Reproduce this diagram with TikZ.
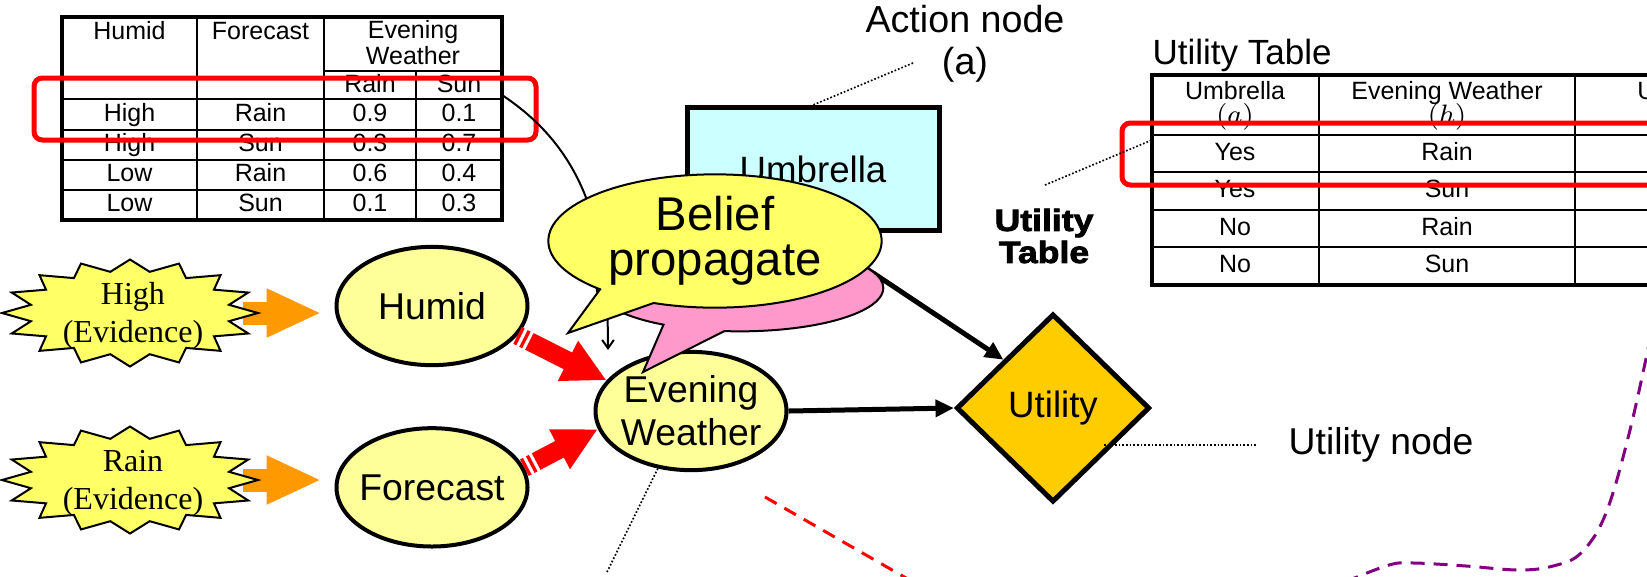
\documentclass[tikz,border=0pt]{standalone}
\usepackage{fontspec}
\setmainfont{Liberation Sans}
\newfontfamily\evidencefont{Liberation Serif}
\newfontfamily\heavyfont{Liberation Sans}[UprightFont={* Bold},FakeBold=2.6,FakeStretch=1.16]
\usepackage{tikz}
\usetikzlibrary{positioning,shapes.geometric,shapes.callouts,arrows.meta,calc}
\definecolor{ChanceYellow}{RGB}{255,255,153}
\definecolor{EvidenceYellow}{RGB}{255,255,102}
\definecolor{ActionCyan}{RGB}{204,255,255}
\definecolor{UtilityGold}{RGB}{255,204,0}
\definecolor{BubblePink}{RGB}{255,153,204}
\definecolor{EvidenceOrange}{RGB}{255,153,0}
\definecolor{DashPurple}{RGB}{128,0,128}

% 16-point burst behind an evidence label
\tikzset{burst/.pic={
  \draw[line width=0.6pt, fill=EvidenceYellow]
    plot[samples at={0,...,31}, variable=\k]
      ({(isodd(\k) ? 101 : 128)*cos(\k*11.25)}, {(isodd(\k) ? 42 : 53.5)*sin(\k*11.25)}) -- cycle;
}}

\begin{document}
\begin{tikzpicture}[
  x=0.3pt, y=-0.3pt,
  every node/.style={inner sep=0pt},
  cell/.style={font=\fontsize{7.5}{8}\selectfont, text height=5.5pt, text depth=1.5pt},
  tblframe/.style={draw, line width=1.1pt},
  tblrule/.style={draw, line width=0.55pt},
  hilite/.style={draw=red, line width=1.5pt, rounded corners=2.5pt},
  chance/.style={ellipse, draw, line width=1.2pt, fill=ChanceYellow, minimum width=57.3pt, minimum height=35.5pt, inner xsep=-2pt, align=center, font=\fontsize{11.2}{12.9}\selectfont},
  actionbox/.style={rectangle, draw, line width=1.5pt, fill=ActionCyan, minimum width=75.6pt, minimum height=36.9pt, font=\fontsize{11}{12}\selectfont},
  utilnode/.style={diamond, draw, line width=1.5pt, fill=UtilityGold, minimum width=58pt, minimum height=56.5pt, font=\fontsize{11}{12}\selectfont},
  evtext/.style={align=center, font=\evidencefont\fontsize{9.6}{11.4}\selectfont},
  bubble/.style={ellipse callout, draw, line width=0.6pt, align=center},
  evarrow/.style={EvidenceOrange, line width=6.9pt, -{Triangle[length=16.5pt, width=13.5pt]}},
  beliefarrow/.style={red, line width=5.6pt, -{Triangle[length=13pt, width=12.5pt]}, dash pattern=on 1pt off 1pt on 1pt off 1pt on 80pt off 1pt},
  infarrow/.style={line width=1.5pt, -{Triangle[length=5.5pt, width=5pt]}},
  linkline/.style={line width=0.6pt, -{Straight Barb[length=2.5pt, width=3.5pt]}},
  leader/.style={line width=0.5pt, dash pattern=on 0.5pt off 0.6pt},
  reddash/.style={red, line width=0.9pt, dash pattern=on 4pt off 2.7pt},
  purpledash/.style={DashPurple, line width=0.9pt, dash pattern=on 4.2pt off 2.7pt}
]
\useasboundingbox (0,0) rectangle (1647,576);
\clip (0,0) rectangle (1647,576);

% CPT of Evening Weather
\foreach \y in {99,130,160,190} \draw[tblrule] (62,\y) -- (502,\y);
\foreach \x in {197,324} \draw[tblrule] (\x,17) -- (\x,220);
\draw[tblrule] (324,71) -- (502,71) (416,71) -- (416,220);
\draw[tblframe] (62,17) rectangle (502,220);
\node[cell] (cpt-h1) at (129.5,33) {Humid};
\node[cell] (cpt-h2) at (260.5,33) {Forecast};
\node[align=center, font=\fontsize{7.5}{5.9}\selectfont] (cpt-h3) at (413,42.5) {Evening\\Weather};
\node[cell] (cpt-h4) at (370,86) {Rain};
\node[cell] (cpt-h5) at (459,86) {Sun};
\foreach \h/\f/\pr/\ps [count=\i] in {High/Rain/0.9/0.1, High/Sun/0.3/0.7, Low/Rain/0.6/0.4, Low/Sun/0.1/0.3} {
  \node[cell] (cpt-\i-1) at (129.5,{84.5+30*\i}) {\h};
  \node[cell] (cpt-\i-2) at (260.5,{84.5+30*\i}) {\f};
  \node[cell] (cpt-\i-3) at (370,{84.5+30*\i}) {\pr};
  \node[cell] (cpt-\i-4) at (459,{84.5+30*\i}) {\ps};
}
\draw[hilite] (34,78) rectangle (536,140);

% utility table
\node[anchor=west, font=\fontsize{10.5}{12}\selectfont] (ut-title) at (1152,55) {Utility Table};
\foreach \y in {135,172,210,247} \draw[tblrule] (1152,\y) -- (1800,\y);
\foreach \x in {1319,1575} \draw[tblrule] (\x,75) -- (\x,285);
\draw[tblframe] (1152,75) rectangle (1800,285);
\foreach \x/\hd/\sym [count=\c] in {1235/Umbrella/a, 1447/Evening Weather/h, 1668/Utility/\mathcal{U}} {
  \node[cell] (ut-h\c) at (\x,93) {\hd};
  \node[cell, font=\fontsize{8.5}{9}\selectfont] (ut-s\c) at (\x,117) {$(\sym)$};
}
\foreach \a/\w [count=\i] in {Yes/Rain, Yes/Sun, No/Rain, No/Sun} {
  \node[cell] (ut-\i-1) at (1235,{116+37.5*\i}) {\a};
  \node[cell] (ut-\i-2) at (1447,{116+37.5*\i}) {\w};
}
\draw[hilite] (1122,123) rectangle (1720,185);

% link from the table down to Evening Weather
\coordinate (cpt-out) at (502,95);
\coordinate (ew-in) at (608,350);
\draw[linkline] (cpt-out) .. controls (585,150) and (608,230) .. (ew-in);

% network
\node[actionbox] (umbrella) at (813,169) {Umbrella};
\node[chance] (humid) at (432,306) {Humid};
\node[chance, below=17.7pt of humid] (forecast) {Forecast};
\node[chance] (weather) at (691,411) {Evening\\Weather};
\node[utilnode] (utility) at (1053,408) {Utility};

\draw[infarrow] (umbrella.south) -- (utility.north west);
\draw[infarrow] (weather.east) -- (utility.west);
\draw[beliefarrow] (humid.-19) -- (weather.160);
\draw[beliefarrow] (forecast.12) -- (weather.191);

% speech bubbles
\node[bubble, fill=BubblePink, minimum width=86pt, minimum height=26pt, callout pointer arc=26, callout absolute pointer={(643,372)}] (echo) at (740,288) {};
\node[bubble, fill=EvidenceYellow, minimum width=100pt, minimum height=40pt, callout pointer arc=22, callout absolute pointer={(568,333)}, font=\fontsize{14.2}{13.6}\selectfont] (belief) at (715,241) {Belief\\propagate};

% evidence
\coordinate (high-out) at (258,313);
\coordinate (rain-out) at (258,480);
\draw[evarrow, shorten <=-4.5pt, shorten >=3.9pt] (high-out) -- (high-out -| humid.west);
\draw[evarrow, shorten <=-4.5pt, shorten >=3.9pt] (rain-out) -- (rain-out -| forecast.west);
\pic at (130,313) {burst};
\pic at (130,480) {burst};
\node[evtext] (high) at (133,316) {High\\(Evidence)};
\node[evtext] (rainev) at (133,483) {Rain\\(Evidence)};

% labels
\node[align=center, font=\fontsize{11.3}{12.6}\selectfont] (actlabel) at (965,44) {Action node\\(a)};
\coordinate (actfoot) at (913,63);
\draw[leader] (actfoot) -- (umbrella.north);

\node[align=center, font=\heavyfont\fontsize{9.2}{9.6}\selectfont] (utlabel) at (1044,236) {Utility\\Table};
\coordinate (utfoot) at (1045,185);
\coordinate (utrow) at (1152,140);
\draw[leader] (utfoot) -- (utrow);

\node[font=\fontsize{11.2}{12}\selectfont] (unode) at (1381,445) {Utility node};
\draw[leader, shorten <=9.6pt] (unode.west) -- (unode.west -| utility.south east);

\coordinate (ewfoot) at (607,572);
\draw[leader] (weather.-120) -- (ewfoot);

% dashed guides
\coordinate (rd-a) at (765,497);
\coordinate (rd-b) at (920,586);
\draw[reddash] (rd-a) -- (rd-b);
\draw[purpledash] plot[smooth, tension=0.6] coordinates {(1345,582) (1389,565) (1414,563) (1466,566) (1519,570) (1553,566) (1581,553) (1606,513) (1630,430) (1652,330)};
\end{tikzpicture}
\end{document}
